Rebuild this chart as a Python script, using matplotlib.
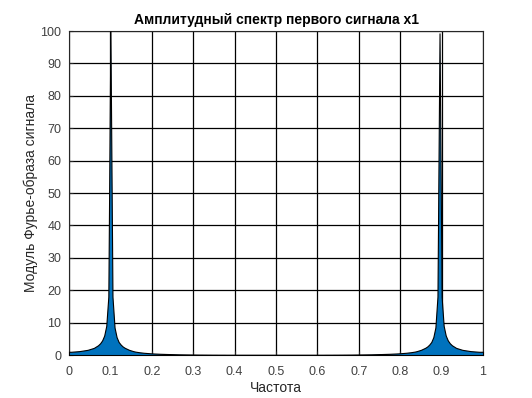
import numpy as np
import matplotlib.pyplot as plt

plt.rcParams['font.family'] = ['Liberation Sans', 'DejaVu Sans']

# частотная сетка 0..1 с шагом 0.005
freq = np.linspace(0, 1, 201)

# модуль спектра, 0 .. 0.5
spec_left = [
    1.0, 1.0, 1.05, 1.1, 1.15, 1.2, 1.3, 1.4, 1.5, 1.6,
    1.8, 2.0, 2.2, 2.6, 3.0, 3.6, 4.5, 6.0, 9.0, 18.0,
    100.0, 18.0, 8.5, 5.5, 4.0, 3.2, 2.6, 2.2, 1.9, 1.6,
    1.4, 1.2, 1.05, 0.95, 0.85, 0.78, 0.7, 0.65, 0.6, 0.55,
    0.5, 0.47, 0.44, 0.41, 0.38, 0.36, 0.34, 0.32, 0.3, 0.28,
    0.26, 0.24, 0.22, 0.2, 0.19, 0.18, 0.17, 0.16, 0.15, 0.14,
    0.13, 0.12, 0.11, 0.1, 0.1, 0.09, 0.09, 0.08, 0.08, 0.07,
    0.07, 0.07, 0.06, 0.06, 0.06, 0.06, 0.05, 0.05, 0.05, 0.05,
    0.05, 0.05, 0.05, 0.05, 0.05, 0.05, 0.05, 0.05, 0.05, 0.05,
    0.05, 0.05, 0.05, 0.05, 0.05, 0.05, 0.05, 0.05, 0.05, 0.05,
]
# 0.5 .. 1
spec_right = [
    0.05,
    0.05, 0.05, 0.05, 0.05, 0.05, 0.05, 0.05, 0.05, 0.05, 0.05,
    0.05, 0.05, 0.05, 0.05, 0.05, 0.05, 0.05, 0.05, 0.05, 0.05,
    0.05, 0.05, 0.05, 0.06, 0.06, 0.06, 0.06, 0.07, 0.07, 0.07,
    0.08, 0.08, 0.09, 0.09, 0.1, 0.1, 0.11, 0.12, 0.13, 0.14,
    0.15, 0.16, 0.17, 0.18, 0.19, 0.2, 0.22, 0.24, 0.26, 0.28,
    0.3, 0.32, 0.34, 0.36, 0.38, 0.41, 0.44, 0.47, 0.5, 0.55,
    0.6, 0.65, 0.7, 0.78, 0.85, 0.95, 1.05, 1.2, 1.4, 1.6,
    1.9, 2.2, 2.6, 3.2, 4.0, 5.5, 8.5, 18.0, 99.3, 18.0,
    9.0, 6.0, 4.5, 3.6, 3.0, 2.6, 2.2, 2.0, 1.8, 1.6,
    1.5, 1.4, 1.3, 1.2, 1.15, 1.1, 1.05, 1.0, 1.0, 1.0,
]
spec = np.array(spec_left + spec_right)

xticks = [0, 0.1, 0.2, 0.3, 0.4, 0.5, 0.6, 0.7, 0.8, 0.9, 1]
xticklabels = ['0', '0.1', '0.2', '0.3', '0.4', '0.5', '0.6', '0.7', '0.8', '0.9', '1']
yticks = list(range(0, 101, 10))

fig = plt.figure(figsize=(5.32, 3.98), dpi=100)
ax = fig.add_axes([0.1297, 0.108, 0.7782, 0.814])

ax.fill_between(freq, 0, spec, facecolor='#0072BD', edgecolor='black', linewidth=0.8, zorder=3)

ax.set_xlim(0, 1)
ax.set_ylim(0, 100)
ax.set_xticks(xticks)
ax.set_xticklabels(xticklabels)
ax.set_yticks(yticks)
ax.grid(True, color='black', linewidth=0.9, zorder=1)
ax.set_axisbelow(True)
ax.tick_params(direction='in', length=3, labelsize=9, labelcolor='#404040', colors='#262626')
ax.tick_params(axis='x', pad=8)
ax.tick_params(axis='y', pad=5.5)
for s in ax.spines.values():
    s.set_color('#262626')
    s.set_linewidth(0.8)

ax.set_title('Амплитудный спектр первого сигнала x1', fontsize=10, fontweight='bold', pad=5)
ax.set_xlabel('Частота', fontsize=10, color='#262626', labelpad=2)
ax.set_ylabel('Модуль Фурье-образа сигнала', fontsize=10, color='#262626', labelpad=2)

fig.savefig('out.png', dpi=100)
